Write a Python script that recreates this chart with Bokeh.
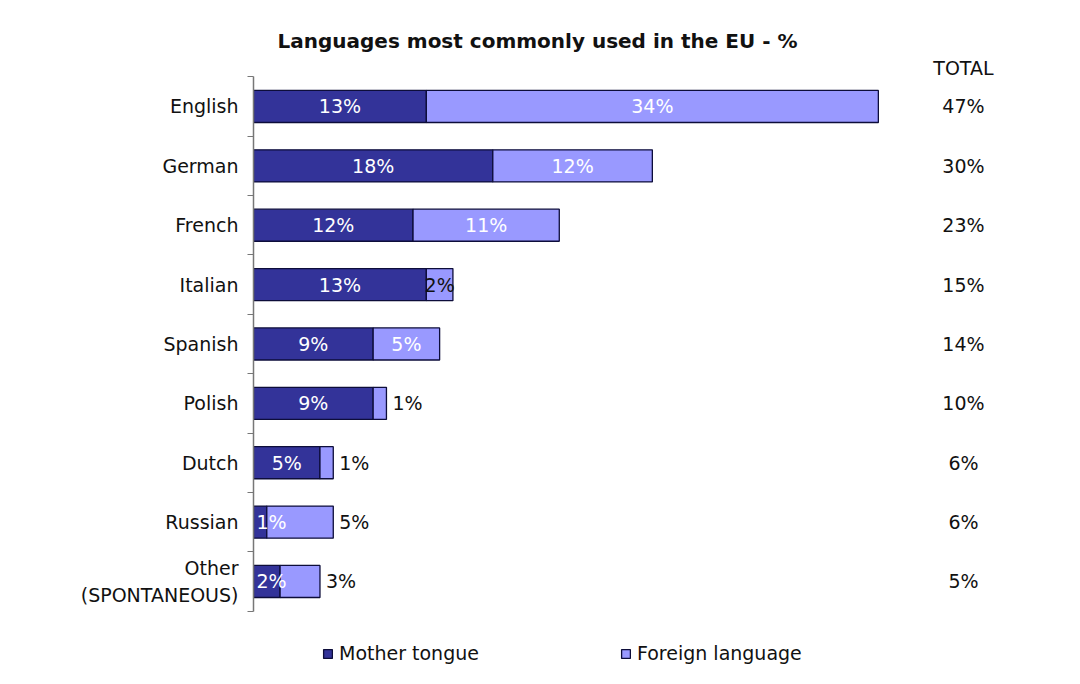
from bokeh.plotting import figure
from bokeh.models import Range1d, FixedTicker, Legend, LegendItem, Label, ColumnDataSource
from bokeh.core.properties import value
from bokeh.embed import file_html
from bokeh.resources import INLINE

# ---- data ----
languages = ["English", "German", "French", "Italian", "Spanish", "Polish",
             "Dutch", "Russian", "Other\n(SPONTANEOUS)"]
mother_tongue = [13, 18, 12, 13, 9, 9, 5, 1, 2]
foreign_language = [34, 12, 11, 2, 5, 1, 1, 5, 3]
totals = [47, 30, 23, 15, 14, 10, 6, 6, 5]
foreign_label_mode = ["in", "in", "in", "in_dark", "in", "out", "out", "out", "out"]
series_names = ["Mother tongue", "Foreign language"]
title_text = "Languages most commonly used in the EU - %"
total_header = "TOTAL"

DARK = "#333399"
LIGHT = "#9999FF"
EDGE = "#0d0d3a"
FONT = "DejaVu Sans"
FS = "19px"
INK = "#111111"

n = len(languages)
ys = list(range(n))
stack_end = [m + f for m, f in zip(mother_tongue, foreign_language)]

# frame spans full height; row pitch 59.375 px, first row at 106 px
p = figure(width=1080, height=684, output_backend="svg", toolbar_location=None,
           x_range=Range1d(0, 60.7), y_range=Range1d(9.735, -1.785),
           min_border_left=253, min_border_right=20, min_border_top=0,
           min_border_bottom=0, x_axis_location=None)
p.outline_line_color = None
p.xgrid.visible = False
p.ygrid.visible = False
p.background_fill_color = "white"
p.border_fill_color = "white"

src = ColumnDataSource(dict(y=ys, mother=mother_tongue, foreign=foreign_language,
                            end=stack_end, total=totals))
r1 = p.hbar(y="y", left=0, right="mother", height=0.54, source=src,
            fill_color=DARK, line_color=EDGE, line_width=1.3)
r2 = p.hbar(y="y", left="mother", right="end", height=0.54, source=src,
            fill_color=LIGHT, line_color=EDGE, line_width=1.3)

# mother tongue labels
mx, malign, moff = [], [], []
for m in mother_tongue:
    if m < 3:
        mx.append(0); malign.append("left"); moff.append(3)
    else:
        mx.append(m / 2); malign.append("center"); moff.append(0)
msrc = ColumnDataSource(dict(x=mx, y=ys, t=[f"{m}%" for m in mother_tongue],
                             a=malign, o=moff))
p.text(x="x", y="y", text="t", text_align="a", x_offset="o", source=msrc,
       text_baseline="middle", text_color="white", text_font=value(FONT),
       text_font_size=FS)

# foreign labels
fx, falign, foff, fcol = [], [], [], []
for m, f, mode in zip(mother_tongue, foreign_language, foreign_label_mode):
    if mode == "out":
        fx.append(m + f); falign.append("left"); foff.append(6); fcol.append(INK)
    elif mode == "in_dark":
        fx.append(m + f / 2); falign.append("center"); foff.append(0); fcol.append(INK)
    else:
        fx.append(m + f / 2); falign.append("center"); foff.append(0); fcol.append("white")
fsrc = ColumnDataSource(dict(x=fx, y=ys, t=[f"{f}%" for f in foreign_language],
                             a=falign, o=foff, c=fcol))
p.text(x="x", y="y", text="t", text_align="a", x_offset="o", text_color="c",
       source=fsrc, text_baseline="middle", text_font=value(FONT), text_font_size=FS)

# totals column
total_x = 53.4
tsrc = ColumnDataSource(dict(x=[total_x] * n, y=ys, t=[f"{t}%" for t in totals]))
p.text(x="x", y="y", text="t", source=tsrc, text_align="center",
       text_baseline="middle", text_color=INK, text_font=value(FONT),
       text_font_size=FS)

p.add_layout(Label(x=total_x, y=-0.64, text=total_header, text_align="center",
                   text_baseline="middle", text_font=FONT, text_font_size=FS,
                   text_color=INK))
p.add_layout(Label(x=21.36, y=-1.095, text=title_text, text_align="center",
                   text_baseline="middle", text_font=FONT, text_font_size="20px",
                   text_font_style="bold", text_color=INK))

# y axis
ax = p.yaxis[0]
ax.bounds = (-0.5, n - 0.5)
ax.ticker = FixedTicker(ticks=ys, minor_ticks=[i - 0.5 for i in range(n + 1)])
ax.major_label_overrides = {i: name for i, name in zip(ys, languages)}
ax.major_tick_out = 0
ax.major_tick_in = 0
ax.minor_tick_out = 6
ax.minor_tick_in = 0
ax.minor_tick_line_color = "#777777"
ax.axis_line_color = "#777777"
ax.axis_line_width = 1.5
ax.major_label_text_font = FONT
ax.major_label_text_font_size = FS
ax.major_label_text_color = INK
ax.major_label_text_align = "center"
ax.major_label_standoff = 9

legend = Legend(items=[LegendItem(label=series_names[0], renderers=[r1]),
                       LegendItem(label=series_names[1], renderers=[r2])],
                orientation="horizontal", location=(69, 20),
                padding=0, margin=0, spacing=141, border_line_color=None,
                background_fill_alpha=0, glyph_width=11, glyph_height=11,
                label_standoff=6, label_text_font=FONT, label_text_font_size=FS,
                label_text_color=INK)
p.add_layout(legend, "center")

open("out.html", "w").write(file_html(p, INLINE))
